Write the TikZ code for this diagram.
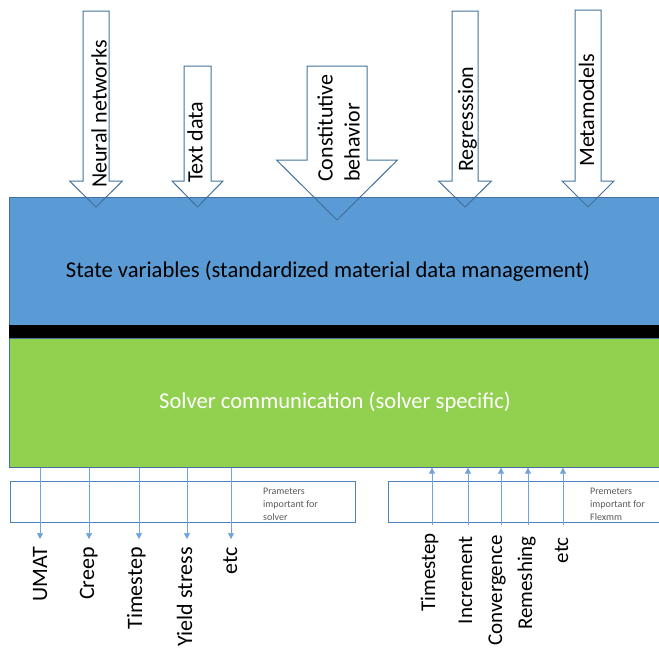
\documentclass[tikz,border=0pt]{standalone}
\usepackage{fontspec}
\setmainfont{Carlito}
\usetikzlibrary{arrows.meta,positioning}

\definecolor{stateblue}{HTML}{5B9BD5}
\definecolor{solvergreen}{HTML}{92D050}
\definecolor{edgeblue}{HTML}{41719C}
\definecolor{boxblue}{HTML}{4F81BD}
\definecolor{tickblue}{HTML}{6FA3DB}
\definecolor{notegray}{HTML}{595959}

% block arrow: centre x, top y, shaft half width, head half width, head y, tip y
\newcommand{\feedarrow}[6]{%
  \draw[inarrow] ({#1-#3},#2) -- ({#1+#3},#2) -- ({#1+#3},#5) -- ({#1+#4},#5)
    -- (#1,#6) -- ({#1-#4},#5) -- ({#1-#3},#5) -- cycle;}

\begin{document}
\begin{tikzpicture}[x=1pt,y=-1pt,
  layer/.style={draw=edgeblue,line width=0.7pt,anchor=north west,inner sep=0pt},
  inarrow/.style={draw=edgeblue,line width=1pt},
  vlabel/.style={rotate=90,font=\fontsize{22}{27}\selectfont,inner sep=0pt},
  parbox/.style={draw=boxblue,line width=1.3pt,anchor=north west,inner sep=0pt},
  note/.style={font=\fontsize{10}{13}\selectfont,text=notegray,align=left,anchor=north west,inner sep=0pt},
  tick/.style={draw=tickblue,line width=0.7pt,-{Triangle[width=6pt,length=6pt]}}]

\useasboundingbox (0,0) rectangle (659,651);

% the two layers
\node[layer,fill=stateblue,minimum width=655pt,minimum height=128pt] (state) at (9,197) {};
\node[fill=black,inner sep=0pt,anchor=north west,minimum width=655pt,minimum height=13pt] (band) at (9,325) {};
\node[layer,fill=solvergreen,minimum width=655pt,minimum height=129pt] (solver) at (9,338) {};
\node[font=\fontsize{22.6}{26}\selectfont] (statetxt) at (328,271) {State variables (standardized material data management)};
\node[font=\fontsize{22.6}{26}\selectfont,text=white] (solvertxt) at (335,402) {Solver communication (solver specific)};

% inputs from the top
\feedarrow{96}{11}{13}{26.5}{181}{207}
\feedarrow{197.5}{66}{13.5}{25.5}{181}{207}
\feedarrow{337}{66}{30}{60.5}{160}{220}
\feedarrow{465}{11}{13}{26.5}{181}{207}
\feedarrow{588}{10}{13}{26}{181}{207}

\node[vlabel,anchor=base west] (neural) at (106.5,188) {Neural networks};
\node[vlabel,anchor=base west] (textdata) at (202.5,183) {Text data};
\node[vlabel,anchor=south west,align=left] (constit) at (360,182) {Constitutive\\behavior};
\node[vlabel,anchor=base west] (regress) at (473,172) {Regresssion};
\node[vlabel,anchor=base west] (meta) at (594,167) {Metamodels};

% parameter boxes
\node[parbox,minimum width=345pt,minimum height=41pt] (solverpar) at (10,481) {};
\node[parbox,minimum width=280pt,minimum height=41pt] (flexpar) at (388,481) {};
\node[note] (solvernote) at (263,487.5) {Prameters\\important for\\solver};
\node[note] (flexnote) at (590,487.5) {Premeters\\important for\\Flexmm};

% solver side
\foreach \nm/\ax/\bx/\tx in {umat/40/47/UMAT,creep/89/94/Creep,tstepa/139/142/Timestep,yield/187/192/Yield stress,etca/231/237/etc}{
  \node[vlabel,anchor=base east] (\nm) at (\bx,547) {\tx};
  \coordinate (\nm-tip) at (\ax,539);
  \draw[tick] (\nm-tip |- solver.south) -- (\nm-tip);
}

% flexmm side
\foreach \nm/\ax/\bx/\ty/\tx in {tstepb/432/435/533/Timestep,incr/468/472/536/Increment,conv/501/502/535/Convergence,remesh/528/532/536/Remeshing,etcb/563/568/537/etc}{
  \node[vlabel,anchor=base east,font=\fontsize{21}{25}\selectfont] (\nm) at (\bx,\ty) {\tx};
  \coordinate (\nm-foot) at (\ax,525);
  \draw[tick] (\nm-foot) -- (\nm-foot |- solver.south);
}

\end{tikzpicture}
\end{document}
